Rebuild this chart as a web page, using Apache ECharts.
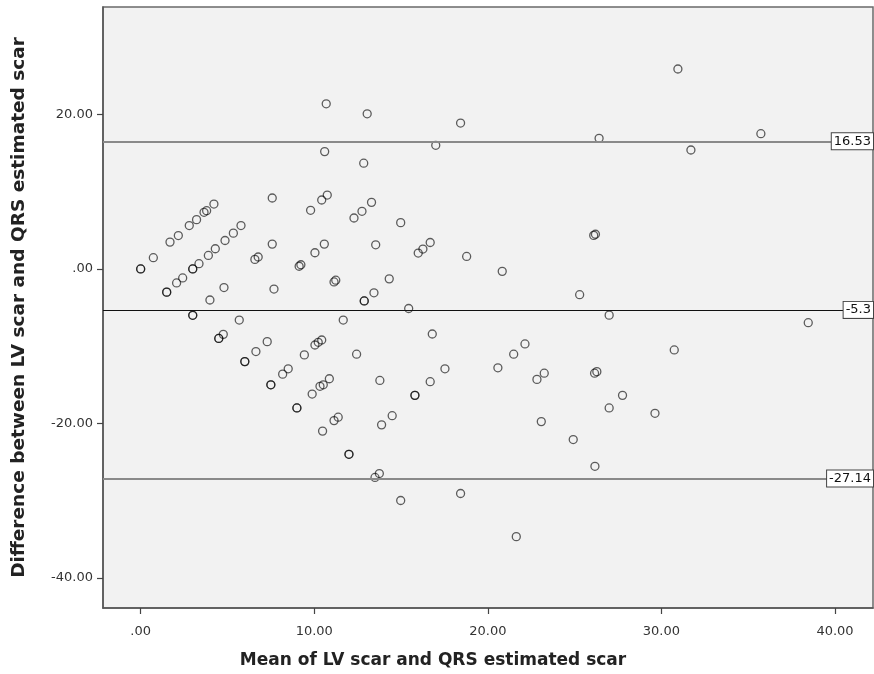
<!DOCTYPE html>
<html>
<head>
<meta charset="utf-8">
<title>Bland-Altman: LV scar vs QRS estimated scar</title>
<script src="https://cdn.jsdelivr.net/npm/echarts@6/dist/echarts.min.js"></script>
<style>
  html, body { margin: 0; padding: 0; background: #fff; }
  #chart { width: 874px; height: 674px; }
</style>
</head>
<body>
<div id="chart"></div>
<script>
// Mean of the two methods (x) and their difference (y), one entry per subject.
// Repeated pairs are listed more than once so the rings stack darker.
const meanScar = [
  0, 0, 0.73, 1.69, 2.17, 2.80, 3.22, 3.65, 3.80, 4.22,
  1.50, 1.50, 2.07, 2.42, 3.0, 3.0, 3.36, 3.90, 4.30, 4.86, 5.34, 5.78,
  6.58, 6.77, 7.58, 7.58, 9.13, 9.23, 10.04, 10.58, 9.79, 10.43, 10.75, 10.60, 10.69,
  11.14, 11.24, 4.80, 7.68, 3.99, 3.0, 3.0, 5.68, 4.5, 4.5, 4.76,
  6.64, 7.29, 6.0, 6.0, 8.18, 8.50, 7.5, 7.5, 9.43, 10.04, 10.23, 10.43,
  9.88, 10.33, 10.52, 10.87, 9.0, 9.0, 10.48, 11.14, 11.38, 12.0, 12.0,
  11.67, 12.44, 12.88, 12.88, 13.05, 18.43, 17.00, 12.85, 26.41,
  12.29, 12.75, 13.30, 14.98, 13.54, 15.99, 16.26, 16.68, 18.78, 20.83,
  26.10, 26.20, 14.32, 13.44, 25.29, 15.44, 16.80, 13.78, 16.68, 17.53,
  15.80, 15.80, 20.58, 21.49, 22.14, 22.83, 23.25, 26.15, 26.28,
  13.88, 14.49, 23.08, 24.92, 26.17, 13.50, 13.75, 14.98, 18.43, 21.64,
  30.95, 31.70, 35.73, 26.99, 38.46, 30.74, 27.76, 26.99, 29.63
];
const diffScar = [
  0, 0, 1.46, 3.48, 4.33, 5.62, 6.39, 7.34, 7.55, 8.41,
  -3.0, -3.0, -1.81, -1.16, 0, 0, 0.68, 1.75, 2.62, 3.69, 4.64, 5.62,
  1.24, 1.55, 3.22, 9.19, 0.35, 0.55, 2.10, 3.22, 7.60, 8.93, 9.57, 15.20, 21.39,
  -1.68, -1.45, -2.41, -2.60, -4.02, -6.0, -6.0, -6.62, -9.0, -9.0, -8.47,
  -10.70, -9.41, -12.0, -12.0, -13.62, -12.93, -15.0, -15.0, -11.13, -9.85, -9.50, -9.20,
  -16.20, -15.20, -15.00, -14.22, -18.0, -18.0, -21.00, -19.64, -19.20, -24.0, -24.0,
  -6.62, -11.04, -4.14, -4.14, 20.10, 18.90, 16.02, 13.70, 16.92,
  6.60, 7.47, 8.63, 6.00, 3.13, 2.06, 2.58, 3.43, 1.62, -0.31,
  4.35, 4.50, -1.28, -3.09, -3.33, -5.12, -8.42, -14.44, -14.60, -12.93,
  -16.37, -16.37, -12.80, -11.04, -9.71, -14.30, -13.50, -13.50, -13.30,
  -20.19, -19.00, -19.77, -22.09, -25.56, -27.00, -26.50, -29.99, -29.08, -34.67,
  25.90, 15.41, 17.52, -5.98, -6.96, -10.49, -16.37, -18.00, -18.69
];

// Mean difference and the 95% limits of agreement
const upperLimit = 16.53;
const meanDiff = -5.3;
const lowerLimit = -27.14;

// Tick positions on each axis
const xTicks = [0, 10, 20, 30, 40];
const yTicks = [-40, -20, 0, 20];

const points = meanScar.map((m, i) => [m, diffScar[i]]);

const fmt = v => (Math.abs(v) < 1e-9 ? '.00' : v.toFixed(2));
const baseFont = 'DejaVu Sans';

const refLabel = {
  show: true,
  position: 'insideEnd',
  distance: 0,
  formatter: p => String(p.value),
  fontFamily: baseFont,
  fontSize: 13,
  color: '#111',
  backgroundColor: '#fff',
  borderColor: '#444',
  borderWidth: 1,
  padding: [2, 2, 1, 2]
};

const chart = echarts.init(document.getElementById('chart'), null, { renderer: 'canvas' });

chart.setOption({
  animation: false,
  backgroundColor: '#fff',
  grid: {
    left: 103, right: 1, top: 7, bottom: 63,
    show: true,
    backgroundColor: '#f2f2f2',
    borderColor: '#6a6a6a',
    borderWidth: 1.5
  },
  xAxis: {
    type: 'value',
    min: -2.17,
    max: 42.19,
    name: 'Mean of LV scar and QRS estimated scar',
    nameLocation: 'middle',
    nameGap: 44,
    nameTextStyle: {
      fontFamily: baseFont, fontSize: 17, fontWeight: 'bold', color: '#222',
      padding: [0, 110, 0, 0]
    },
    axisLine: { show: true, onZero: false, lineStyle: { color: '#555', width: 1.5 } },
    axisTick: { show: true, length: 6, customValues: xTicks, lineStyle: { color: '#444', width: 1.2 } },
    axisLabel: { customValues: xTicks, formatter: fmt, margin: 17, fontFamily: baseFont, fontSize: 13, color: '#333' },
    splitLine: { show: false }
  },
  yAxis: {
    type: 'value',
    min: -43.91,
    max: 33.93,
    name: 'Difference between LV scar and QRS estimated scar',
    nameLocation: 'middle',
    nameGap: 74,
    nameTextStyle: { fontFamily: baseFont, fontSize: 18.5, fontWeight: 'bold', color: '#222' },
    axisLine: { show: true, onZero: false, lineStyle: { color: '#555', width: 1.5 } },
    axisTick: { show: true, length: 6, customValues: yTicks, lineStyle: { color: '#444', width: 1.2 } },
    axisLabel: { customValues: yTicks, formatter: fmt, margin: 10, fontFamily: baseFont, fontSize: 13, color: '#333' },
    splitLine: { show: false }
  },
  series: [{
    type: 'scatter',
    data: points,
    symbol: 'circle',
    symbolSize: 8,
    itemStyle: {
      color: 'rgba(0,0,0,0)',
      borderColor: 'rgba(0,0,0,0.78)',
      borderWidth: 1.3
    },
    emphasis: { disabled: true },
    markLine: {
      silent: true,
      symbol: 'none',
      animation: false,
      data: [
        { yAxis: upperLimit, lineStyle: { color: '#8a8a8a', width: 2, type: 'solid' }, label: refLabel },
        { yAxis: meanDiff, lineStyle: { color: '#111', width: 1.2, type: 'solid' }, label: refLabel },
        { yAxis: lowerLimit, lineStyle: { color: '#8a8a8a', width: 2, type: 'solid' }, label: refLabel }
      ]
    }
  }]
});
</script>
</body>
</html>
